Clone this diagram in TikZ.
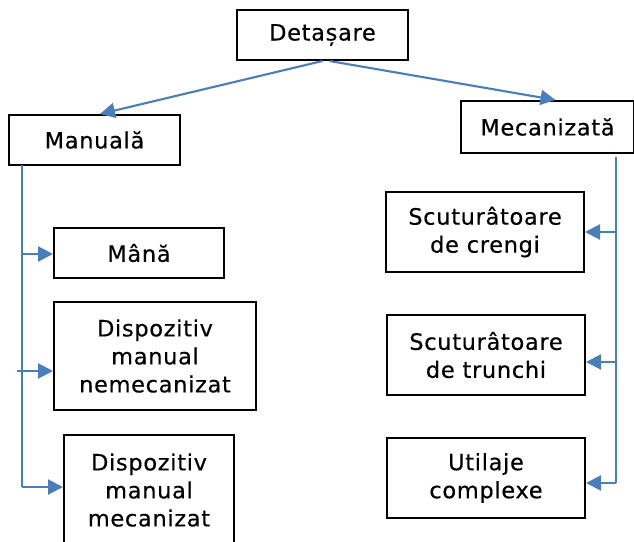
\documentclass[tikz,border=0pt]{standalone}
\usepackage{fontspec}
\setmainfont{DejaVu Sans}[LetterSpace=3,FakeBold=0.4]
\usetikzlibrary{arrows.meta}
\definecolor{linkblue}{HTML}{4A7EBB}
\begin{document}
\begin{tikzpicture}[x=1pt,y=-1pt,
  box/.style={draw=black,line width=2pt,align=center,inner sep=0pt,
    font=\fontsize{22.5}{28}\selectfont},
  link/.style={draw=linkblue,line width=2.1pt},
  tip/.style={-{Triangle[length=15pt,width=15pt]}}]
\useasboundingbox (0,0) rectangle (634,541);
\clip (0,0) rectangle (634,541);

% top level and the two branches
\node[box,minimum width=171pt,minimum height=50pt] (det) at (322.5,35) {Detașare};
\node[box,minimum width=171pt,minimum height=50pt] (man) at (94.5,140) {Manuală};
\node[box,minimum width=173pt,minimum height=52pt] (mec) at (547.5,127) {Mecanizată};

% manual branch
\node[box,minimum width=170pt,minimum height=50pt] (mana) at (139,253) {Mână};
\node[box,minimum width=202pt,minimum height=108pt] (dnm) at (155,356) {Dispozitiv\\manual\\nemecanizat};
\node[box,minimum width=170pt,minimum height=110pt] (dm) at (149,490) {Dispozitiv\\manual\\mecanizat};

% mechanised branch
\node[box,minimum width=198pt,minimum height=80pt] (sc) at (485,232) {Scuturâtoare\\de crengi};
\node[box,minimum width=198pt,minimum height=80pt] (st) at (486,355) {Scuturâtoare\\de trunchi};
\node[box,minimum width=198pt,minimum height=80pt] (uc) at (486,478) {Utilaje\\complexe};

% connectors from the top box
\draw[link,tip] (det.south) -- ([xshift=5.5pt]man.north);
\draw[link,tip] ([xshift=7pt]det.south) -- ([xshift=8pt]mec.north);

% left bus
\coordinate (ltop) at (22,165);
\coordinate (lbot) at (22,487);
\coordinate (l1) at (22,254);
\coordinate (l2) at (17,371);
\draw[link] (ltop) -- (lbot);
\draw[link,tip] (l1) -- (l1 -| mana.west);
\draw[link,tip] (l2) -- (l2 -| dnm.west);
\draw[link,tip] (lbot) -- (lbot -| dm.west);

% right bus
\coordinate (rtop) at (616,157);
\coordinate (rbot) at (616,483);
\coordinate (r1) at (616,232);
\coordinate (r2) at (616,362);
\draw[link] (rtop) -- (rbot);
\draw[link,tip] (r1) -- (r1 -| sc.east);
\draw[link,tip] (r2) -- (r2 -| st.east);
\draw[link,tip] (rbot) -- (rbot -| uc.east);
\end{tikzpicture}
\end{document}
